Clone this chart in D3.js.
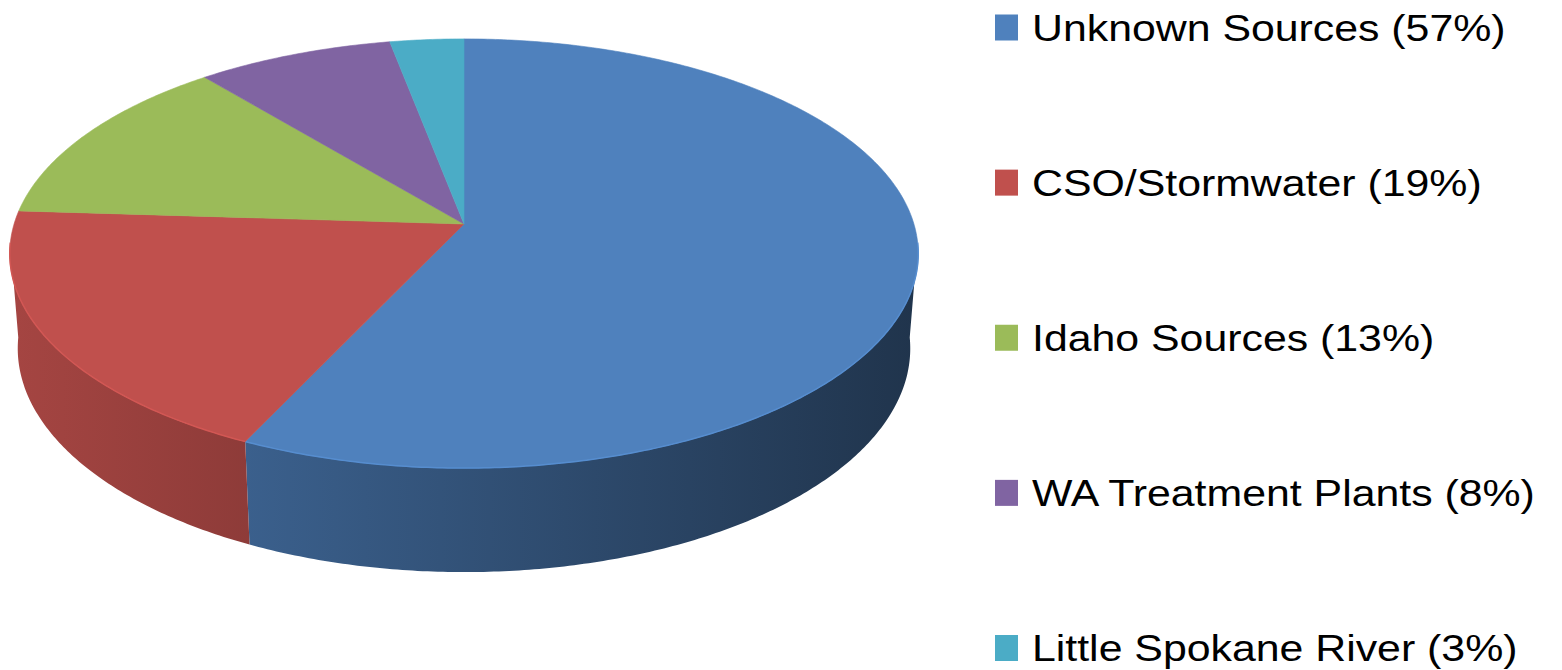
<!DOCTYPE html>
<meta charset="utf-8">
<style>
  body { margin: 0; background: #fff; }
  .legend text { font-family: "Liberation Sans", Arial, sans-serif; font-size: 36px; fill: #000; }
</style>
<body>
<script src="https://cdn.jsdelivr.net/npm/d3@7"></script>
<script>
  var categories = ["Unknown Sources", "CSO/Stormwater", "Idaho Sources", "WA Treatment Plants", "Little Spokane River"];
  var shares = [57, 19, 13, 8, 3];
  var colors = ["#4F81BD", "#C0504D", "#9BBB59", "#8064A2", "#4BACC6"];

  var width = 1562, height = 670;

  // camera for the tilted disc
  var cx = 464, cy = 224, F = 2893, D = 6.43,
    tilt = 27.9 * Math.PI / 180, thick = 0.241;
  var sinA = Math.sin(tilt), cosA = Math.cos(tilt);

  function project3(X, Y, Z) {
    var depth = D - Y * sinA - Z * cosA;
    return [cx + F * X / depth, cy - F * (Y * cosA - Z * sinA) / depth];
  }
  // point on rim at pie angle phi (0 = back, clockwise seen from above)
  function project(phi, y) {
    return project3(Math.sin(phi), y, -Math.cos(phi));
  }

  function arcPoints(a0, a1, y) {
    var n = Math.max(2, Math.ceil((a1 - a0) / 0.01));
    return d3.range(n + 1).map(i => project(a0 + (a1 - a0) * i / n, y));
  }

  var svg = d3.select("body").append("svg")
    .attr("width", width)
    .attr("height", height);

  var pie = d3.pie().sort(null).value(d => d)
  var slices = pie(shares);
  var line = d3.line();

  var defs = svg.append("defs");
  slices.forEach((s, i) => {
    var c = d3.rgb(colors[i]);
    var g = defs.append("linearGradient")
      .attr("id", "side" + i)
      .attr("gradientUnits", "userSpaceOnUse")
      .attr("x1", 12).attr("x2", 918).attr("y1", 0).attr("y2", 0);
    [[0, 0.86], [1, 0.40]].forEach(st => {
      g.append("stop").attr("offset", st[0])
        .attr("stop-color", d3.rgb(c.r * st[1], c.g * st[1], c.b * st[1]));
    });
  });

  // front side band (visible part only)
  var vis0 = 95 * Math.PI / 180, vis1 = 265 * Math.PI / 180;
  var sides = svg.append("g");
  slices.forEach((s, i) => {
    var a0 = Math.max(s.startAngle, vis0), a1 = Math.min(s.endAngle, vis1);
    if (a1 <= a0) return;
    var pts = arcPoints(a0, a1, 0).concat(arcPoints(a0, a1, -thick).reverse());
    sides.append("path")
      .attr("d", line(pts) + "Z")
      .attr("fill", "url(#side" + i + ")");
  });

  // top faces
  var tops = svg.append("g");
  var apex = project3(0, 0, 0);
  slices.forEach((s, i) => {
    var pts = [apex].concat(arcPoints(s.startAngle, s.endAngle, 0));
    tops.append("path")
      .attr("d", line(pts) + "Z")
      .attr("fill", colors[i])
      .attr("stroke", colors[i])
      .attr("stroke-width", 0.6);
    var a0 = Math.max(s.startAngle, vis0), a1 = Math.min(s.endAngle, vis1);
    if (a1 > a0) {
      tops.append("path")
        .attr("d", line(arcPoints(a0, a1, 0)))
        .attr("fill", "none")
        .attr("stroke", d3.rgb(colors[i]).brighter(0.25))
        .attr("stroke-width", 1.5);
    }
  });

  // legend
  var ly = d3.scalePoint().domain(categories).range([27.5, 648]);
  var legend = svg.append("g").attr("class", "legend");
  var items = legend.selectAll("g").data(categories).enter().append("g")
    .attr("transform", d => "translate(995," + ly(d) + ")");
  items.append("rect")
    .attr("x", 0).attr("y", -13)
    .attr("width", 23).attr("height", 26)
    .attr("fill", (d, i) => colors[i]);
  items.append("text")
    .attr("transform", "translate(37,13) scale(1.19,1)")
    .text((d, i) => d + " (" + shares[i] + "%)");
</script>
</body>
